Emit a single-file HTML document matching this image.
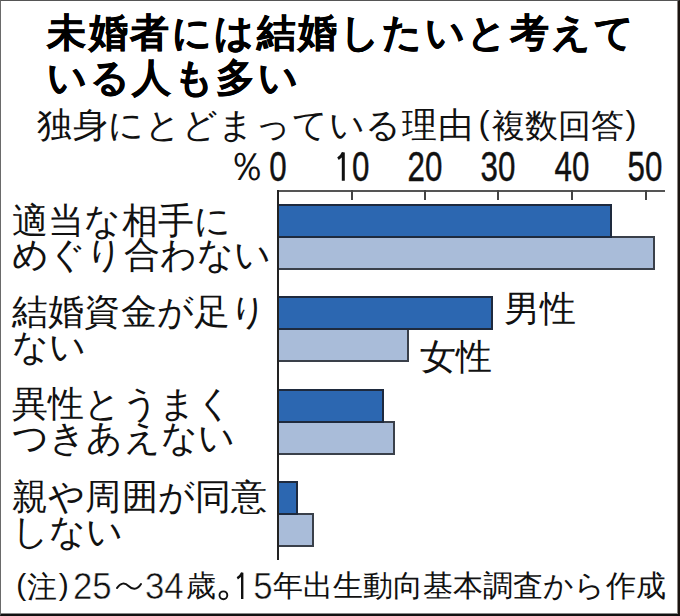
<!DOCTYPE html>
<html lang="ja"><head><meta charset="utf-8">
<style>
html,body{margin:0;padding:0;background:#fff;}
body{width:680px;height:616px;position:relative;overflow:hidden;font-family:"Liberation Sans",sans-serif;color:#111;}
.frame{position:absolute;left:0;top:0;width:680px;height:616px;box-sizing:border-box;border-left:1px solid #6a6a6a;border-top:1px solid #555;border-right:2px solid #1a1410;border-bottom:2px solid #111;}
.frame2{position:absolute;left:0;top:0;width:678px;height:614px;box-sizing:border-box;border-right:1px solid #8a8580;border-bottom:1px solid #888;}
.t{position:absolute;white-space:nowrap;line-height:1;}
.title{font-weight:bold;font-size:39px;letter-spacing:2.5px;color:#000;-webkit-text-stroke:0.4px #000;}
.sub{font-size:35px;letter-spacing:0.7px;}
.cat{font-size:36px;letter-spacing:0.2px;}
.num{position:absolute;font-size:42px;line-height:1;transform:scaleX(0.745);-webkit-text-stroke:0.45px #111;transform-origin:50% 0;text-align:center;width:80px;white-space:nowrap;}
.axis-h{position:absolute;left:277px;top:189.5px;width:388px;height:2px;background:#555;}
.axis-v{position:absolute;left:277px;top:190px;width:2px;height:370px;background:#222;}
.tick{position:absolute;top:190px;width:2px;height:10px;background:#444;}
.bar{position:absolute;left:277px;box-sizing:border-box;border:2px solid #1e2a3e;height:34px;}
.m{background:#2c67b1;}
.f{background:#a9bcd9;border-color:#3a404a;}
.ft{font-size:30px;}
.ghost{color:transparent;-webkit-text-stroke-color:transparent;}
.fd{font-size:37px;transform:scaleX(0.94);transform-origin:0 0;-webkit-text-stroke:0.5px #fff;}
</style></head><body>
<div class="t title" style="left:47px;top:12.5px;">未婚者には結婚したいと考えて</div>
<div class="t title" style="left:47px;top:57.5px;">いる人も多い</div>
<div class="t sub" style="left:37px;top:107px;">独身にとどまっている理由</div>
<div class="t" style="left:478.5px;top:106px;font-size:33px;">(</div>
<div class="t" style="left:491.5px;top:108.5px;font-size:33px;">複数回答</div>
<div class="t" style="left:625.5px;top:106px;font-size:33px;">)</div>

<div class="t" style="left:227.3px;top:147px;font-size:39px;">％</div>
<div class="num" style="left:237.5px;top:146px;">0</div>
<div class="num" style="left:312px;top:146px;"><span class="ghost">1</span>0</div>
<div class="num" style="left:385px;top:146px;">20</div>
<div class="num" style="left:458px;top:146px;">30</div>
<div class="num" style="left:532px;top:146px;">40</div>
<div class="num" style="left:605px;top:146px;">50</div>

<div class="axis-h"></div>
<div class="tick" style="left:351px"></div>
<div class="tick" style="left:424px"></div>
<div class="tick" style="left:497px"></div>
<div class="tick" style="left:571px"></div>
<div class="tick" style="left:645px"></div>

<div class="bar f" style="top:236px;width:378px;"></div>
<div class="bar f" style="top:328px;width:132px;"></div>
<div class="bar f" style="top:421px;width:118px;"></div>
<div class="bar f" style="top:513px;width:37px;"></div>
<div class="bar m" style="top:204px;width:335px;"></div>
<div class="bar m" style="top:296px;width:216px;"></div>
<div class="bar m" style="top:389px;width:107px;"></div>
<div class="bar m" style="top:481px;width:21px;"></div>
<div class="axis-v"></div>

<div class="t cat" style="left:12px;top:202.5px;">適当な相手に</div>
<div class="t cat" style="left:12px;top:237.2px;">めぐり合わない</div>
<div class="t cat" style="left:12px;top:294px;">結婚資金が足り</div>
<div class="t cat" style="left:12px;top:328.7px;">ない</div>
<div class="t cat" style="left:12px;top:385.5px;">異性とうまく</div>
<div class="t cat" style="left:12px;top:420.2px;">つきあえない</div>
<div class="t cat" style="left:12px;top:479px;">親や周囲が同意</div>
<div class="t cat" style="left:12px;top:513.7px;">しない</div>

<div class="t cat" style="left:504.2px;top:290.5px;letter-spacing:0;">男性</div>
<div class="t cat" style="left:420.2px;top:338.5px;letter-spacing:0;">女性</div>

<div class="t ft" style="left:16.2px;top:570px;">(</div>
<div class="t ft" style="left:27px;top:572px;">注</div>
<div class="t ft" style="left:58.8px;top:570px;">)</div>
<div class="t fd" style="left:72.7px;top:567.5px;">25</div>
<svg style="position:absolute;left:0;top:0" width="680" height="616"><path d="M117,588 C120.5,582.5 125,582.5 128.5,586 C132,589.5 137,590.5 141,584" fill="none" stroke="#111" stroke-width="2" stroke-linecap="round"/><path d="M338,158.8 Q341.6,156.6 343.3,152.6 V180.8" fill="none" stroke="#111" stroke-width="3"/><path d="M237.3,578.4 Q240.6,576.4 242.2,572.8 V599" fill="none" stroke="#111" stroke-width="2.4"/><circle cx="223.4" cy="595.3" r="3.9" fill="none" stroke="#111" stroke-width="1.9"/></svg>
<div class="t fd" style="left:145.3px;top:567.5px;">34</div>
<div class="t ft" style="left:185.5px;top:571px;">歳</div>

<div class="t fd" style="left:233.5px;top:567.5px;"><span class="ghost">1</span>5</div>
<div class="t ft" style="left:273px;top:570.7px;letter-spacing:0.05px;">年出生動向基本調査から作成</div>
<div class="frame2"></div><div class="frame"></div>
</body></html>
